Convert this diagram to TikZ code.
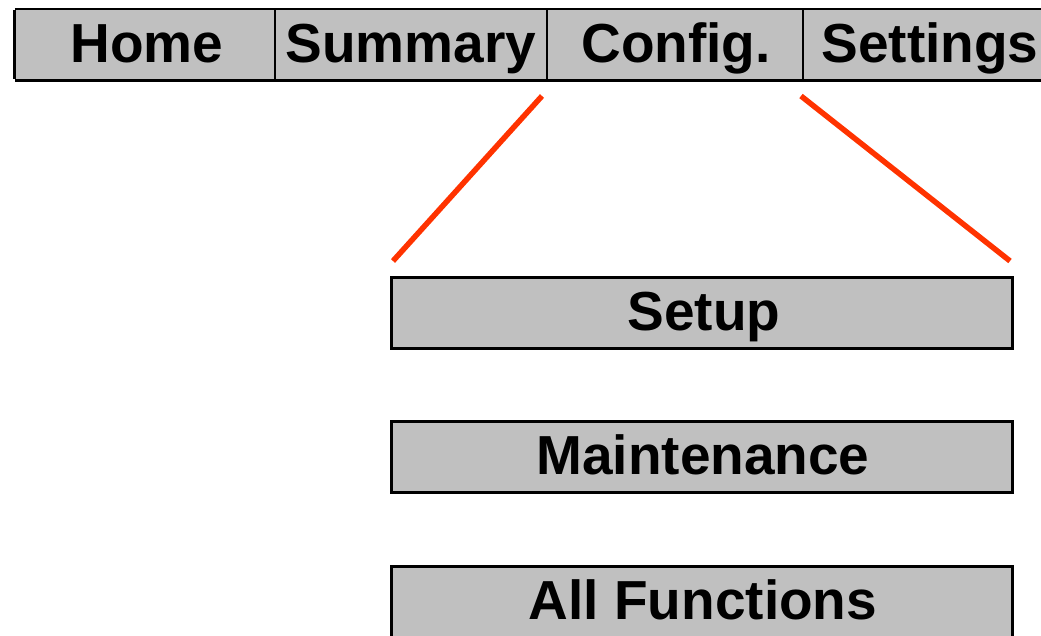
\documentclass[tikz,border=0pt]{standalone}
\usepackage{fontspec}
\setmainfont{Liberation Sans}
\definecolor{boxgray}{HTML}{C0C0C0}
\definecolor{zoomred}{HTML}{FF3300}
\begin{document}
\begin{tikzpicture}[x=1pt,y=-1pt,
  cell/.style={fill=boxgray, draw=none, inner sep=0pt, minimum height=71pt},
  lab/.style={font=\fontsize{55}{60}\selectfont\bfseries, inner sep=0pt, anchor=base},
  panel/.style={fill=boxgray, draw=black, line width=3pt, inner sep=0pt, minimum width=621pt, minimum height=71pt},
  zoomline/.style={draw=zoomred, line width=5.5pt}]
\useasboundingbox (0,0) rectangle (1041,635);
% top bar cells
\node[cell, minimum width=260pt] (home) at (145,44.5) {};
\node[cell, minimum width=272pt] (summary) at (411,44.5) {};
\node[cell, minimum width=256pt] (config) at (675,44.5) {};
\node[cell, minimum width=250pt] (settings) at (928,44.5) {};
\draw[line width=2pt] (home.north west) -- (settings.north east);
\draw[line width=3pt] (home.south west) -- (settings.south east);
\draw[line width=3pt] ([yshift=-1pt]home.north west) -- ([yshift=1.5pt]home.south west);
\draw[line width=1.5pt] (home.north east) -- (home.south east);
\draw[line width=1.5pt] (summary.north east) -- (summary.south east);
\draw[line width=1.5pt] (config.north east) -- (config.south east);
\node[lab] (thome) at (147,62) {Home};
\node[lab] (tsummary) at (411,62) {Summary};
\node[lab] (tconfig) at (676,62) {Config.};
\node[lab] (tsettings) at (930,62) {Settings};
% lower panels
\node[panel] (setup) at (702,313) {};
\node[panel] (maint) at (702,457) {};
\node[panel] (allf) at (702,602) {};
\node[lab] at (704,330) {Setup};
\node[lab] at (703,474) {Maintenance};
\node[lab] at (703,619) {All Functions};
% zoom lines
\coordinate (z1a) at (542,96);
\coordinate (z1b) at (393,261);
\coordinate (z2a) at (801,96);
\coordinate (z2b) at (1010,261);
\draw[zoomline] (z1a) -- (z1b);
\draw[zoomline] (z2a) -- (z2b);
\end{tikzpicture}
\end{document}
